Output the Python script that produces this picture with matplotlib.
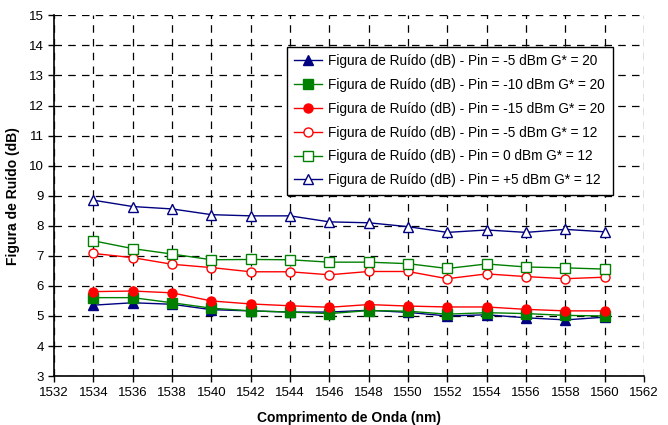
import matplotlib
matplotlib.use('Agg')
import matplotlib.pyplot as plt

plt.rcParams['font.family'] = ['Liberation Sans', 'DejaVu Sans']

wl = [1534, 1536, 1538, 1540, 1542, 1544, 1546, 1548, 1550, 1552, 1554, 1556, 1558, 1560]

nf_m5_g20 = [5.36, 5.44, 5.39, 5.21, 5.17, 5.13, 5.13, 5.19, 5.12, 5.00, 5.04, 4.94, 4.87, 4.96]
nf_m10_g20 = [5.61, 5.61, 5.44, 5.26, 5.17, 5.13, 5.08, 5.18, 5.16, 5.06, 5.11, 5.08, 5.02, 5.00]
nf_m15_g20 = [5.81, 5.83, 5.77, 5.50, 5.40, 5.34, 5.29, 5.38, 5.33, 5.30, 5.30, 5.22, 5.17, 5.17]
nf_m5_g12 = [7.08, 6.94, 6.72, 6.61, 6.47, 6.47, 6.37, 6.48, 6.48, 6.24, 6.40, 6.31, 6.24, 6.29]
nf_0_g12 = [7.50, 7.24, 7.06, 6.87, 6.88, 6.87, 6.79, 6.79, 6.74, 6.58, 6.73, 6.63, 6.60, 6.56]
nf_p5_g12 = [8.85, 8.64, 8.56, 8.37, 8.33, 8.33, 8.13, 8.10, 7.97, 7.78, 7.86, 7.78, 7.88, 7.80]

labels = [
    'Figura de Ruído (dB) - Pin = -5 dBm G* = 20',
    'Figura de Ruído (dB) - Pin = -10 dBm G* = 20',
    'Figura de Ruído (dB) - Pin = -15 dBm G* = 20',
    'Figura de Ruído (dB) - Pin = -5 dBm G* = 12',
    'Figura de Ruído (dB) - Pin = 0 dBm G* = 12',
    'Figura de Ruído (dB) - Pin = +5 dBm G* = 12',
]

fig = plt.figure(figsize=(6.68, 4.25), dpi=100)
ax = fig.add_axes([0.081, 0.115, 0.883, 0.849])

series = [nf_m5_g20, nf_m10_g20, nf_m15_g20, nf_m5_g12, nf_0_g12, nf_p5_g12]
colors = ['#000080', '#008000', '#ff0000', '#ff0000', '#008000', '#000080']
markers = ['^', 's', 'o', 'o', 's', '^']
filled = [True, True, True, False, False, False]

for y, c, m, f, lab in zip(series, colors, markers, filled, labels):
    ax.plot(wl, y, color=c, marker=m, markersize=6.5, linewidth=1,
            markerfacecolor=c if f else 'white', markeredgecolor=c,
            markeredgewidth=1, label=lab)

ax.set_xlim(1532, 1562)
ax.set_ylim(3, 15)
ax.set_xticks(range(1532, 1563, 2))
ax.set_yticks(range(3, 16))
ax.grid(True, color='black', linestyle=(0, (6, 5)), linewidth=0.9)
ax.tick_params(labelsize=9.5, length=4, width=1, direction='out')
for side in ['top', 'right']:
    ax.spines[side].set_visible(False)
for side in ['left', 'bottom']:
    ax.spines[side].set_linewidth(1.2)

ax.set_xlabel('Comprimento de Onda (nm)', fontsize=10, fontweight='bold', labelpad=9)
ax.set_ylabel('Figura de Ruído (dB)', fontsize=10, fontweight='bold', labelpad=6)

leg = ax.legend(loc='upper left', bbox_to_anchor=(0.383, 0.932), fontsize=9.8,
                frameon=True, fancybox=False, edgecolor='black', framealpha=1,
                handlelength=2.0, handletextpad=0.5, labelspacing=0.72, borderpad=0.55)
leg.get_frame().set_linewidth(1)

fig.savefig('out.png', dpi=100)
